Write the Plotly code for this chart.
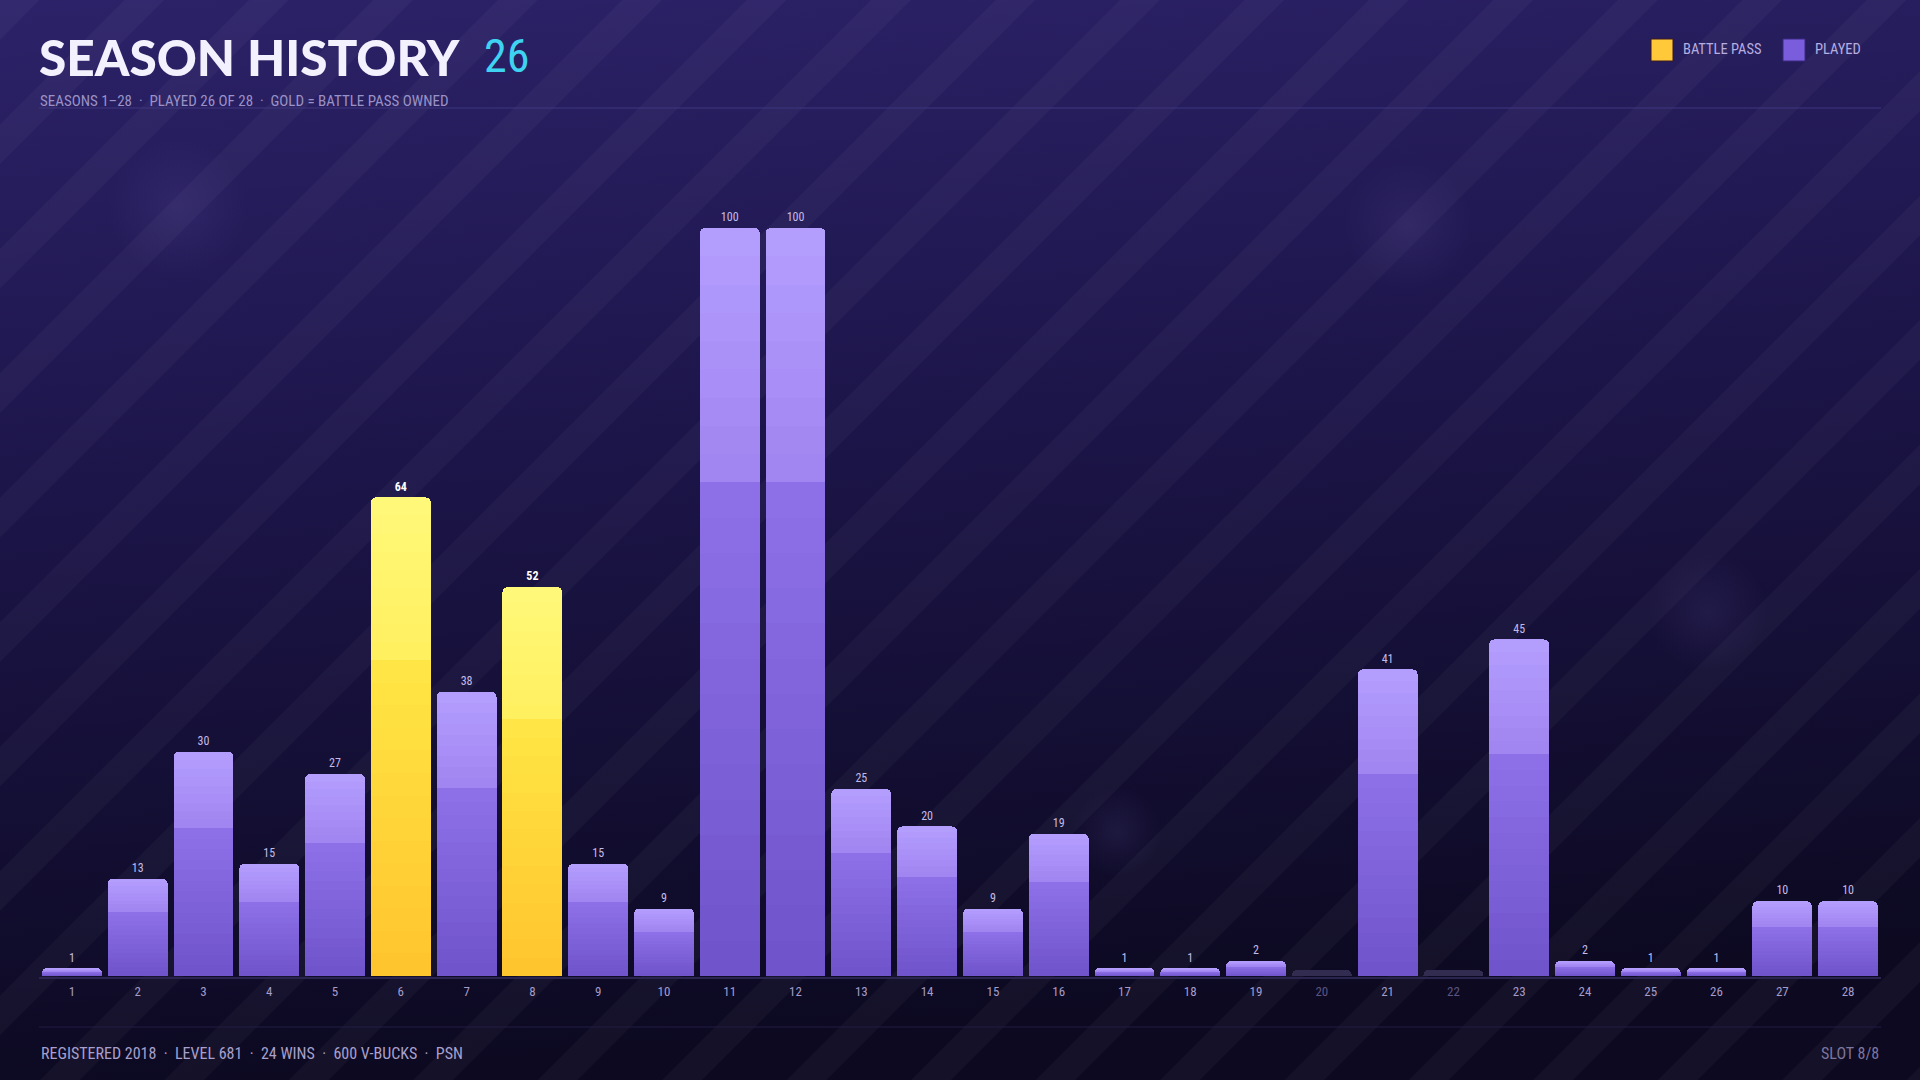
import base64
import plotly.graph_objects as go

# season data
seasons = list(range(1, 29))
levels = [1, 13, 30, 15, 27, 64, 38, 52, 15, 9, 100, 100, 25, 20, 9, 19,
          1, 1, 2, 0, 41, 0, 45, 2, 1, 1, 10, 10]
battle_pass = [6, 8]
not_played = [20, 22]

W, H = 1920, 1080
ML, MR, MT, MB = 39, 39, 116, 104
PW, PH = W - ML - MR, H - MT - MB
YMAX = 115


def px_x(x):
    return (x - ML) / PW


def px_y(y):
    return (H - MB - y) / PH


def mix(c1, c2, t):
    a = [int(c1[i:i + 2], 16) for i in (1, 3, 5)]
    b = [int(c2[i:i + 2], 16) for i in (1, 3, 5)]
    return "#%02x%02x%02x" % tuple(round(a[k] + (b[k] - a[k]) * t) for k in range(3))


# background: vertical gradient + diagonal stripes + faint bokeh
svg = f"""<svg xmlns="http://www.w3.org/2000/svg" width="{W}" height="{H}">
<defs>
<linearGradient id="bg" x1="0" y1="0" x2="0.15" y2="1">
<stop offset="0" stop-color="#2c2269"/>
<stop offset="0.45" stop-color="#1c1549"/>
<stop offset="1" stop-color="#0c0921"/>
</linearGradient>
<pattern id="st" width="88" height="88" patternUnits="userSpaceOnUse" patternTransform="rotate(45)">
<rect x="0" y="0" width="28" height="88" fill="#ffffff" fill-opacity="0.03"/>
</pattern>
<radialGradient id="bk"><stop offset="0" stop-color="#8f7fe0" stop-opacity="0.10"/>
<stop offset="1" stop-color="#8f7fe0" stop-opacity="0"/></radialGradient>
</defs>
<rect width="{W}" height="{H}" fill="url(#bg)"/>
<rect width="{W}" height="{H}" fill="url(#st)"/>
<circle cx="178" cy="208" r="70" fill="url(#bk)"/>
<circle cx="1408" cy="226" r="65" fill="url(#bk)"/>
<circle cx="1708" cy="612" r="60" fill="url(#bk)"/>
<circle cx="1117" cy="832" r="45" fill="url(#bk)"/>
</svg>"""
bg_src = "data:image/svg+xml;base64," + base64.b64encode(svg.encode()).decode()

# bar gradient, drawn as stacked slices of each bar
split = 0.66
n_lo, n_hi = 14, 9
purple_lo = ("#7054cc", "#8d70e8")
purple_hi = ("#a185f1", "#b39dfd")
gold_lo = ("#ffc52e", "#ffe545")
gold_hi = ("#fff060", "#fff878")
empty_col = "#322c50"

fig = go.Figure()
slices = []
for i in range(n_lo):
    slices.append((split / n_lo, "lo", i / (n_lo - 1)))
for i in range(n_hi):
    slices.append(((1 - split) / n_hi, "hi", i / (n_hi - 1)))

for k, (frac, part, t) in enumerate(slices):
    vals, cols = [], []
    for s, v in zip(seasons, levels):
        if s in not_played:
            vals.append(0.8 if k == 0 else 0)
            cols.append(empty_col)
            continue
        vals.append(v * frac)
        if s in battle_pass:
            c = gold_lo if part == "lo" else gold_hi
        else:
            c = purple_lo if part == "lo" else purple_hi
        cols.append(mix(c[0], c[1], t))
    fig.add_trace(go.Bar(x=seasons, y=vals, marker=dict(color=cols, line=dict(width=0)),
                         showlegend=False, hoverinfo="skip"))

cond = "Roboto Condensed, Liberation Sans Narrow, DejaVu Sans Condensed, sans-serif"

# value labels
lab_text, lab_col, lab_y = [], [], []
for s, v in zip(seasons, levels):
    lab_y.append(v + 0.5)
    if s in not_played:
        lab_text.append("")
    elif s in battle_pass:
        lab_text.append(f"<b>{v}</b>")
    else:
        lab_text.append(str(v))
    lab_col.append("#ffffff" if s in battle_pass else "#c4bce8")
fig.add_trace(go.Scatter(x=seasons, y=lab_y, mode="text", text=lab_text,
                         textposition="top center",
                         textfont=dict(size=12, color=lab_col, family=cond),
                         showlegend=False, hoverinfo="skip", cliponaxis=False))

tick_text = []
for s in seasons:
    col = "#5c5580" if s in not_played else "#a49cc9"
    tick_text.append(f'<span style="color:{col}">{s}</span>')

fig.update_layout(
    width=W, height=H,
    margin=dict(l=ML, r=MR, t=MT, b=MB),
    paper_bgcolor="#150f38", plot_bgcolor="rgba(0,0,0,0)",
    barmode="stack", bargap=0.09, barcornerradius=5,
    xaxis=dict(range=[0.5, 28.5], tickvals=seasons, ticktext=tick_text,
               showgrid=False, zeroline=False, showline=False, ticks="",
               ticklabelstandoff=6,
               tickfont=dict(size=13, family=cond, color="#a49cc9")),
    yaxis=dict(range=[0, YMAX], visible=False, fixedrange=True),
    font=dict(family=cond, color="#a49cc9"),
    images=[dict(source=bg_src, xref="paper", yref="paper",
                 x=-ML / PW, y=(H - MB) / PH, sizex=W / PW, sizey=H / PH,
                 xanchor="left", yanchor="top", sizing="stretch", layer="below")],
)

shapes = [
    # header / footer rules and baseline
    dict(type="line", xref="paper", yref="paper", x0=0, x1=1, y0=px_y(108), y1=px_y(108),
         line=dict(color="#3f3680", width=1)),
    dict(type="line", xref="paper", yref="paper", x0=0, x1=1, y0=px_y(1027), y1=px_y(1027),
         line=dict(color="#221c42", width=1)),
    dict(type="line", xref="paper", yref="paper", x0=0, x1=1, y0=px_y(978), y1=px_y(978),
         line=dict(color="#2a2450", width=2), layer="below"),
    # legend swatches
    dict(type="rect", xref="paper", yref="paper", x0=px_x(1651), x1=px_x(1673),
         y0=px_y(61), y1=px_y(39), fillcolor="#ffc93a", line=dict(color="#3a1a20", width=1)),
    dict(type="rect", xref="paper", yref="paper", x0=px_x(1783), x1=px_x(1805),
         y0=px_y(61), y1=px_y(39), fillcolor="#7a5ddc", line=dict(color="#3a2a80", width=1)),
]
fig.update_layout(shapes=shapes)

ann = [
    dict(text="SEASON HISTORY", x=px_x(37), y=px_y(57), xanchor="left", yanchor="middle",
         font=dict(family="Lato, Inter, sans-serif", size=49.5, color="#f4f1ff", weight=900)),
    dict(text="26", x=px_x(482), y=px_y(56), xanchor="left", yanchor="middle",
         font=dict(family=cond, size=46, color="#3fd3f2")),
    dict(text="SEASONS 1–28  ·  PLAYED 26 OF 28  ·  GOLD = BATTLE PASS OWNED",
         x=px_x(38), y=px_y(101), xanchor="left", yanchor="middle",
         font=dict(family=cond, size=15, color="#9a92c6")),
    dict(text="BATTLE PASS", x=px_x(1681), y=px_y(50), xanchor="left", yanchor="middle",
         font=dict(family=cond, size=14.5, color="#b6aee0")),
    dict(text="PLAYED", x=px_x(1813), y=px_y(50), xanchor="left", yanchor="middle",
         font=dict(family=cond, size=14.5, color="#b6aee0")),
    dict(text="REGISTERED 2018  ·  LEVEL 681  ·  24 WINS  ·  600 V-BUCKS  ·  PSN",
         x=0, y=px_y(1053), xanchor="left", yanchor="middle",
         font=dict(family=cond, size=16, color="#a8a0cc")),
    dict(text="SLOT 8/8", x=1, y=px_y(1053), xanchor="right", yanchor="middle",
         font=dict(family=cond, size=16, color="#7d769f")),
]
for a in ann:
    a.update(xref="paper", yref="paper", showarrow=False)
fig.update_layout(annotations=ann)

fig.write_html("out.html", config=dict(displayModeBar=False),
               post_script="document.body.style.margin='0';document.body.style.overflow='hidden';")
